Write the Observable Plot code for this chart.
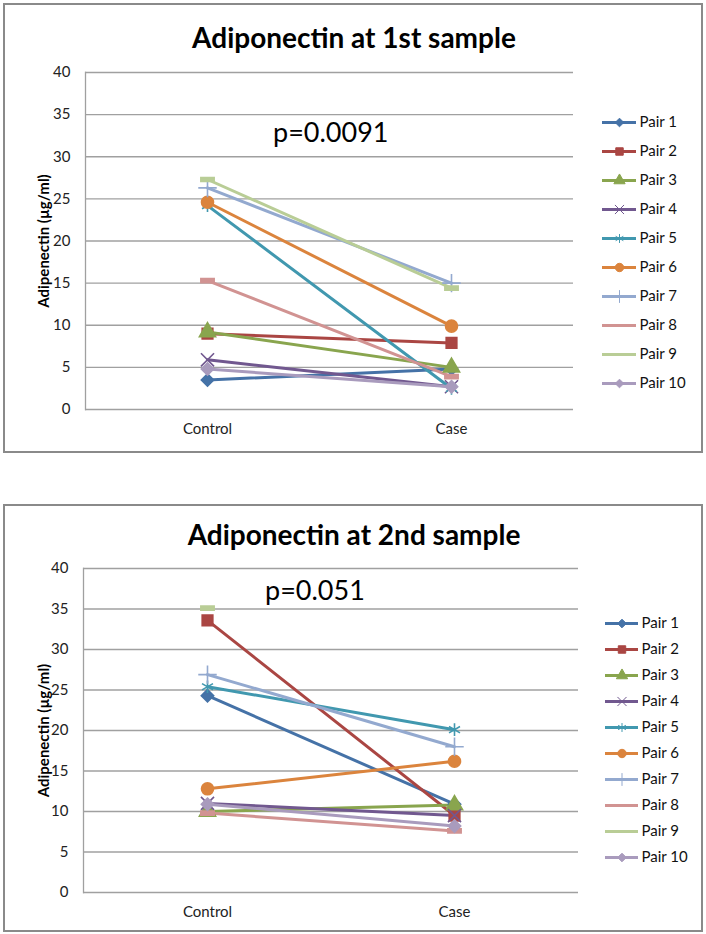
<!DOCTYPE html>
<html>
<head>
<meta charset="utf-8">
<script src="https://cdn.jsdelivr.net/npm/d3@7"></script>
<script src="https://cdn.jsdelivr.net/npm/@observablehq/plot@0.6"></script>
<style>
  html, body { margin: 0; padding: 0; background: #fff; }
  #root { position: relative; width: 706px; height: 934px; font-family: Lato, "Open Sans", sans-serif; }
  .box { position: absolute; border: 2px solid #8a8a8a; box-sizing: border-box; background: #fff; }
  .title { position: absolute; font-weight: bold; font-size: 28px; color: #000; white-space: nowrap; transform: translate(-50%, -50%); }
  .pval { position: absolute; font-size: 27px; color: #000; white-space: nowrap; transform: translateY(-50%); }
  .abs { position: absolute; }
  svg [aria-label="y-axis label"] { font-weight: bold; font-size: 15px; fill: #000; }
</style>
</head>
<body>
<div id="root"></div>
<script>
// ---- data ----
const groups = ["Control", "Case"];
const pairs = ["Pair 1","Pair 2","Pair 3","Pair 4","Pair 5","Pair 6","Pair 7","Pair 8","Pair 9","Pair 10"];
const colors = ["#4572A7","#AA4643","#89A54E","#71588F","#4198AF","#DB843D","#93A9CF","#D19392","#B9CD96","#A99BBD"];
const yTicks = [0,5,10,15,20,25,30,35,40];

// first sample: Control and Case per pair
const sample1Control = [3.5, 9.0, 9.2, 5.9, 24.2, 24.6, 26.3, 15.3, 27.3, 4.8];
const sample1Case    = [4.8, 7.9, 5.0, 2.7, 2.5, 9.9, 15.0, 3.9, 14.4, 2.7];
// second sample
const sample2Control = [24.3, 33.6, 10.0, 11.0, 25.4, 12.8, 26.9, 9.8, 35.1, 10.9];
const sample2Case    = [10.9, 9.5, 10.8, 9.5, 20.1, 16.2, 18.0, 7.6, null, 8.2];

const titles = ["Adiponectin at 1st sample", "Adiponectin at 2nd sample"];
const pLabels = ["p=0.0091", "p=0.051"];
const yLabel = "Adipenectin (µg/ml)";

// custom markers
const dash = { draw(ctx, size) { const w = Math.sqrt(size) * 1.25, h = Math.sqrt(size) * 0.38; ctx.rect(-w/2, -h/2, w, h); } };
const diamond = { draw(ctx, size) { const s = Math.sqrt(size) * 0.58; ctx.moveTo(0, -s); ctx.lineTo(s, 0); ctx.lineTo(0, s); ctx.lineTo(-s, 0); ctx.closePath(); } };
const square = { draw(ctx, size) { const s = Math.sqrt(size) * 0.5; ctx.rect(-s, -s, 2*s, 2*s); } };
const symbols = [diamond, square, "triangle", "times", "asterisk", "circle", "plus", dash, dash, diamond];

function rows(ctrl, cs) {
  const out = [];
  pairs.forEach((p, i) => {
    out.push({pair: p, group: "Control", value: ctrl[i]});
    out.push({pair: p, group: "Case", value: cs[i]});
  });
  return out;
}

const root = document.getElementById("root");

function addChart(cfg) {
  const data = rows(cfg.ctrl, cfg.cs);
  const box = document.createElement("div");
  box.className = "box";
  Object.assign(box.style, {left: cfg.box[0]+"px", top: cfg.box[1]+"px", width: cfg.box[2]+"px", height: cfg.box[3]+"px"});
  root.appendChild(box);

  const chart = Plot.plot({
    width: 706, height: cfg.h,
    marginLeft: cfg.ml, marginRight: cfg.mr, marginTop: cfg.mt, marginBottom: cfg.mb,
    style: {fontFamily: "Lato, 'Open Sans', sans-serif", fontSize: "15px", color: "#222", background: "transparent", overflow: "visible"},
    x: {type: "point", domain: groups, padding: 0.5},
    y: {domain: [0, 40]},
    color: {domain: pairs, range: colors},
    symbol: {domain: pairs, range: symbols},
    marks: [
      Plot.ruleY(yTicks, {stroke: "#a0a0a0", strokeWidth: 1.3}),
      Plot.axisY({ticks: yTicks, tickSize: 0, tickPadding: 15, label: yLabel, labelAnchor: "center", labelArrow: "none", labelOffset: cfg.ml - 38, fill: "#222"}),
      Plot.axisX({tickSize: 0, tickPadding: 14, label: null, fill: "#222"}),
      Plot.frame({anchor: "left", stroke: "#a0a0a0", strokeWidth: 1.3}),
      Plot.line(data, {x: "group", y: "value", z: "pair", stroke: "pair", strokeWidth: 3}),
      Plot.dot(data.filter(d => d.value != null), {x: "group", y: "value", symbol: "pair", fill: "pair", stroke: "pair", strokeWidth: 1.6, r: 6})
    ]
  });
  chart.classList.add("abs");
  chart.style.left = "0px"; chart.style.top = cfg.top + "px";
  root.appendChild(chart);

  const t = document.createElement("div");
  t.className = "title"; t.textContent = cfg.title;
  t.style.left = cfg.titlePos[0] + "px"; t.style.top = cfg.titlePos[1] + "px";
  root.appendChild(t);

  const p = document.createElement("div");
  p.className = "pval"; p.textContent = cfg.p;
  p.style.left = cfg.pPos[0] + "px"; p.style.top = cfg.pPos[1] + "px";
  root.appendChild(p);

  const lg = Plot.plot({
    width: 110, height: cfg.lg.h,
    marginLeft: cfg.lg.ml, marginRight: 110 - cfg.lg.x1, marginTop: cfg.lg.mt, marginBottom: cfg.lg.mb,
    style: {fontFamily: "Lato, 'Open Sans', sans-serif", fontSize: "15px", color: "#111", background: "transparent", overflow: "visible"},
    x: {domain: [0, 1], axis: null},
    y: {type: "point", domain: pairs, padding: 0, axis: null},
    color: {domain: pairs, range: colors},
    symbol: {domain: pairs, range: symbols},
    marks: [
      Plot.ruleY(pairs, {y: d => d, x1: 0, x2: 1, stroke: d => d, strokeWidth: 3}),
      Plot.dot(pairs.filter((d, i) => i < 7 || i === 9), {x: 0.5, y: d => d, symbol: d => d, fill: d => d, stroke: d => d, strokeWidth: 1, r: 4.2}),
      Plot.text(pairs, {x: 1, y: d => d, text: d => d, textAnchor: "start", dx: 3, fill: "#111"})
    ]
  });
  lg.classList.add("abs");
  lg.style.left = cfg.lg.left + "px"; lg.style.top = cfg.lg.top + "px";
  root.appendChild(lg);
}

addChart({
  ctrl: sample1Control, cs: sample1Case, title: titles[0], p: pLabels[0],
  box: [3, 3, 700, 450], top: 0, h: 460, ml: 85, mr: 133, mt: 72, mb: 51,
  titlePos: [354, 37], pPos: [273, 131],
  lg: {left: 595, top: 100, h: 300, ml: 7, x1: 41, mt: 21, mb: 17}
});
addChart({
  ctrl: sample2Control, cs: sample2Case, title: titles[1], p: pLabels[1],
  box: [3, 504, 700, 428], top: 470, h: 464, ml: 83, mr: 128, mt: 98, mb: 42,
  titlePos: [354, 534], pPos: [265, 589],
  lg: {left: 595, top: 595, h: 290, ml: 10, x1: 43, mt: 24, mb: 24}
});
</script>
</body>
</html>
